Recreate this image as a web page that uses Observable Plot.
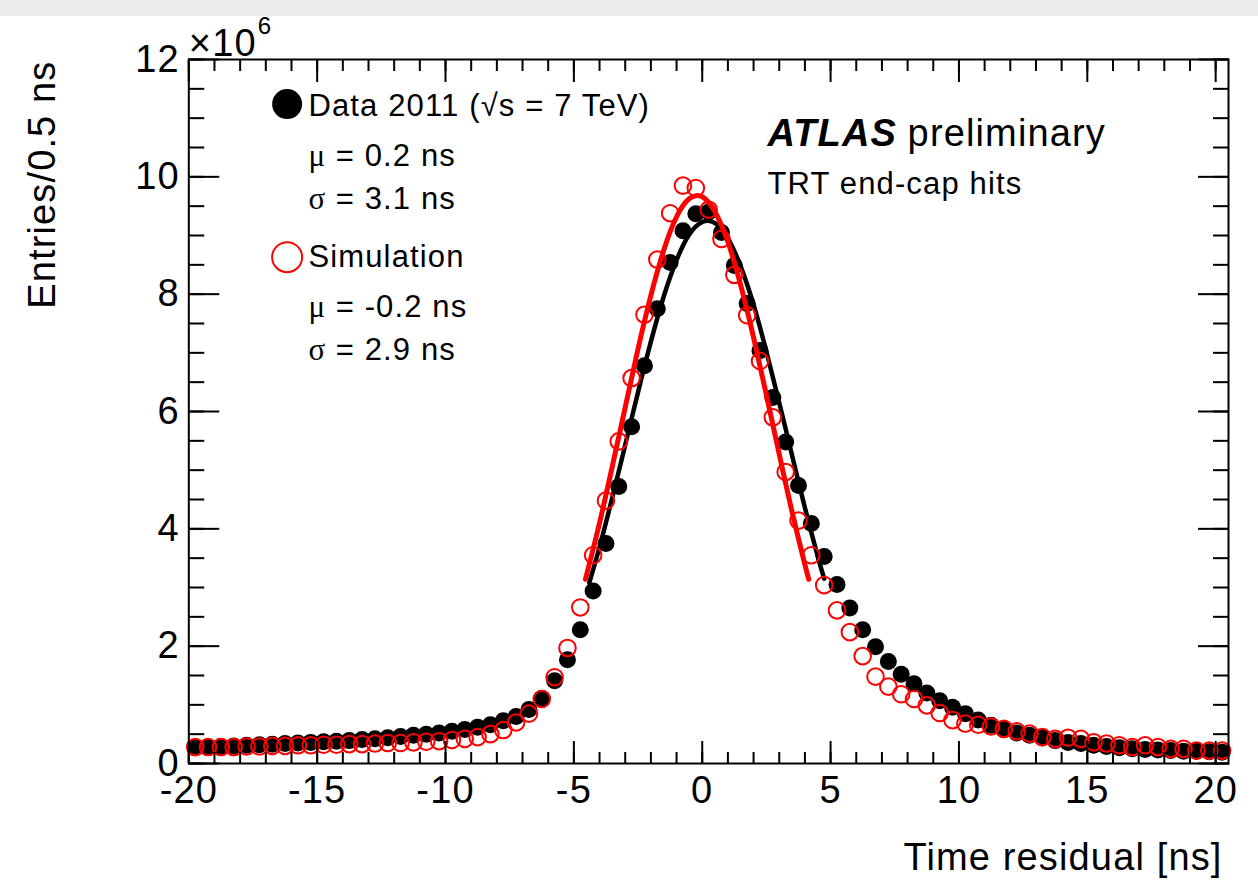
<!DOCTYPE html>
<html><head><meta charset="utf-8">
<script src="https://cdn.jsdelivr.net/npm/d3@7"></script>
<script src="https://cdn.jsdelivr.net/npm/@observablehq/plot@0.6"></script>
<style>
html,body{margin:0;padding:0;background:linear-gradient(#ebebed 0,#ebebed 16px,#ffffff 16px);}
#chart svg{display:block;}
</style></head><body><div id="chart"></div>
<script>
// Bin centres of the 0.5 ns histogram (ns)
const binCenters = [-19.75,-19.25,-18.75,-18.25,-17.75,-17.25,-16.75,-16.25,-15.75,-15.25,
  -14.75,-14.25,-13.75,-13.25,-12.75,-12.25,-11.75,-11.25,-10.75,-10.25,
  -9.75,-9.25,-8.75,-8.25,-7.75,-7.25,-6.75,-6.25,-5.75,-5.25,
  -4.75,-4.25,-3.75,-3.25,-2.75,-2.25,-1.75,-1.25,-0.75,-0.25,
  0.25,0.75,1.25,1.75,2.25,2.75,3.25,3.75,4.25,4.75,
  5.25,5.75,6.25,6.75,7.25,7.75,8.25,8.75,9.25,9.75,
  10.25,10.75,11.25,11.75,12.25,12.75,13.25,13.75,14.25,14.75,
  15.25,15.75,16.25,16.75,17.25,17.75,18.25,18.75,19.25,19.75,20.25];
// Entries (x10^6) — Data 2011
const dataEntries = [0.27,0.28,0.29,0.30,0.31,0.32,0.33,0.34,0.35,0.36,
  0.37,0.38,0.39,0.41,0.42,0.44,0.46,0.48,0.50,0.52,
  0.55,0.58,0.62,0.66,0.73,0.80,0.92,1.11,1.41,1.77,
  2.28,2.94,3.75,4.72,5.74,6.78,7.75,8.54,9.08,9.37,
  9.40,9.05,8.49,7.84,7.04,6.24,5.48,4.74,4.09,3.53,
  3.05,2.65,2.28,1.99,1.74,1.52,1.36,1.20,1.07,0.96,
  0.85,0.74,0.65,0.58,0.52,0.48,0.44,0.39,0.36,0.34,
  0.31,0.29,0.27,0.25,0.24,0.23,0.22,0.21,0.21,0.20,0.19];
// Entries (x10^6) — Simulation
const simEntries = [0.28,0.28,0.28,0.28,0.29,0.29,0.30,0.30,0.31,0.31,
  0.32,0.32,0.33,0.33,0.34,0.35,0.35,0.36,0.37,0.38,
  0.40,0.42,0.45,0.50,0.57,0.70,0.85,1.10,1.47,1.97,
  2.66,3.55,4.48,5.49,6.57,7.65,8.59,9.38,9.85,9.81,
  9.44,8.94,8.33,7.64,6.86,5.90,4.97,4.14,3.55,3.04,
  2.61,2.24,1.83,1.48,1.31,1.18,1.10,0.99,0.86,0.74,
  0.68,0.66,0.63,0.59,0.55,0.51,0.45,0.42,0.44,0.42,
  0.36,0.34,0.31,0.28,0.31,0.28,0.25,0.25,0.22,0.22,0.22];
// Gaussian fit curves
const dataFitX = [-4.4,-4,-3.5,-3,-2.5,-2,-1.5,-1,-0.5,0,0.5,1,1.5,2,2.5,3,3.5,4,4.5,4.75];
const dataFitY = [3.08,3.69,4.54,5.43,6.33,7.19,7.96,8.58,9.02,9.23,9.21,8.95,8.47,7.82,7.02,6.15,5.25,4.36,3.53,3.15];
const simFitX = [-4.55,-4,-3.5,-3,-2.5,-2,-1.5,-1,-0.5,0,0.5,1,1.5,2,2.5,3,3.5,4,4.15];
const simFitY = [3.14,4.10,5.07,6.07,7.07,7.98,8.75,9.32,9.63,9.66,9.40,8.89,8.15,7.26,6.28,5.27,4.29,3.39,3.14];

// Axis ticks
const xMajorTicks = [-20,-15,-10,-5,0,5,10,15,20];
const xMinorTicks = [-20,-19,-18,-17,-16,-15,-14,-13,-12,-11,-10,-9,-8,-7,-6,-5,-4,-3,-2,-1,0,1,2,3,4,5,6,7,8,9,10,11,12,13,14,15,16,17,18,19,20];
const yMajorTicks = [0,2,4,6,8,10,12];
const yMinorTicks = [0,0.5,1,1.5,2,2.5,3,3.5,4,4.5,5,5.5,6,6.5,7,7.5,8,8.5,9,9.5,10,10.5,11,11.5,12];

// Legend / annotation text
const legendLabels = ["Data 2011 (√s = 7 TeV)", "Simulation"];
const legendLabelY = [11.045, 8.46];
const legendMarkerY = [11.24, 8.63];
const legendX = -15.34, legendMarkerX = -16.17, statValueX = -14.28;
const statSymbols = ["μ", "σ", "μ", "σ"];
const statValues = ["= 0.2 ns", "= 3.1 ns", "= -0.2 ns", "= 2.9 ns"];
const statY = [10.19, 9.46, 7.61, 6.87];
const atlasX = 2.54, prelimX = 8.0, atlasY = 10.53, trtY = 9.715;

const dataPts = binCenters.map((x, i) => ({x, y: dataEntries[i]}));
const simPts = binCenters.map((x, i) => ({x, y: simEntries[i]}));
const dataFit = dataFitX.map((x, i) => ({x, y: dataFitY[i]}));
const simFit = simFitX.map((x, i) => ({x, y: simFitY[i]}));
const legendRows = legendLabels.map((t, i) => ({t, y: legendLabelY[i], my: legendMarkerY[i]}));
const statRows = statSymbols.map((s, i) => ({s, v: statValues[i], y: statY[i]}));

const RED = "#ff0000";
const SANS = "Liberation Sans, Arial, Helvetica, sans-serif";

const chart = Plot.plot({
  width: 1258, height: 881,
  marginLeft: 188.3, marginRight: 30, marginTop: 59, marginBottom: 118,
  style: {background: "transparent", fontFamily: SANS, fontSize: "38px", color: "black", letterSpacing: "0.03em"},
  x: {domain: [-20, 20.5]},
  y: {domain: [0, 12]},
  marks: [
    // data
    Plot.dot(dataPts, {x: "x", y: "y", r: 8.5, fill: "black", stroke: "none"}),
    Plot.line(dataFit, {x: "x", y: "y", curve: "natural", stroke: "black", strokeWidth: 4.5}),
    Plot.dot(simPts, {x: "x", y: "y", r: 8.3, fill: "none", stroke: RED, strokeWidth: 2}),
    Plot.line(simFit, {x: "x", y: "y", curve: "natural", stroke: RED, strokeWidth: 5}),
    // frame and inward ticks on all four sides
    Plot.frame({strokeWidth: 2}),
    Plot.axisX(xMinorTicks, {anchor: "bottom", tickSize: 11, dy: -11, fill: "none", strokeWidth: 2, label: null}),
    Plot.axisX(xMajorTicks, {anchor: "bottom", tickSize: 22, dy: -22, fill: "none", strokeWidth: 2, label: null}),
    Plot.axisX(xMinorTicks, {anchor: "top", tickSize: 11, dy: 11, fill: "none", strokeWidth: 2, label: null}),
    Plot.axisX(xMajorTicks, {anchor: "top", tickSize: 22, dy: 22, fill: "none", strokeWidth: 2, label: null}),
    Plot.axisY(yMinorTicks, {anchor: "left", tickSize: 16, dx: 16, fill: "none", strokeWidth: 2, label: null}),
    Plot.axisY(yMajorTicks, {anchor: "left", tickSize: 31, dx: 31, fill: "none", strokeWidth: 2, label: null}),
    Plot.axisY(yMinorTicks, {anchor: "right", tickSize: 16, dx: -16, fill: "none", strokeWidth: 2, label: null}),
    Plot.axisY(yMajorTicks, {anchor: "right", tickSize: 31, dx: -31, fill: "none", strokeWidth: 2, label: null}),
    // tick labels
    Plot.axisX(xMajorTicks, {anchor: "bottom", tickSize: 0, tickPadding: 13, tickFormat: d => String(d), fontSize: 38, label: null}),
    Plot.axisY(yMajorTicks, {anchor: "left", tickSize: 0, tickPadding: 9, tickFormat: d => String(d), fontSize: 38, label: null}),
    // x10^6 multiplier
    Plot.text(["×10"], {frameAnchor: "top-left", text: d => d, textAnchor: "start", lineAnchor: "bottom", dy: -4, fontSize: 38}),
    Plot.text(["6"], {frameAnchor: "top-left", text: d => d, textAnchor: "start", lineAnchor: "bottom", dx: 69, dy: -26, fontSize: 24}),
    // axis titles
    Plot.text(["Entries/0.5 ns"], {frameAnchor: "top-left", text: d => d, rotate: -90, textAnchor: "end", lineAnchor: "middle", dx: -146, dy: 1, fontSize: 38}),
    Plot.text(["Time residual [ns]"], {frameAnchor: "bottom-right", text: d => d, textAnchor: "end", lineAnchor: "bottom", dx: -6, dy: 106, fontSize: 38}),
    // legend
    Plot.dot(legendRows.slice(0, 1), {x: () => legendMarkerX, y: "my", r: 15, fill: "black", stroke: "none"}),
    Plot.dot(legendRows.slice(1), {x: () => legendMarkerX, y: "my", r: 15, fill: "none", stroke: RED, strokeWidth: 2}),
    Plot.text(legendRows, {x: () => legendX, y: "y", text: "t", textAnchor: "start", lineAnchor: "bottom", fontSize: 31}),
    Plot.text(statRows, {x: () => legendX, y: "y", text: "s", textAnchor: "start", lineAnchor: "bottom", fontSize: 31, fontFamily: "Liberation Serif, Times New Roman, serif"}),
    Plot.text(statRows, {x: () => statValueX, y: "y", text: "v", textAnchor: "start", lineAnchor: "bottom", fontSize: 31}),
    // ATLAS label
    Plot.text(["ATLAS"], {x: () => atlasX, y: () => atlasY, text: d => d, textAnchor: "start", lineAnchor: "bottom", fontSize: 38, fontWeight: "bold", fontStyle: "italic"}),
    Plot.text(["preliminary"], {x: () => prelimX, y: () => atlasY, text: d => d, textAnchor: "start", lineAnchor: "bottom", fontSize: 38}),
    Plot.text(["TRT end-cap hits"], {x: () => atlasX, y: () => trtY, text: d => d, textAnchor: "start", lineAnchor: "bottom", fontSize: 31})
  ]
});
document.getElementById("chart").appendChild(chart);
</script>
</body></html>
